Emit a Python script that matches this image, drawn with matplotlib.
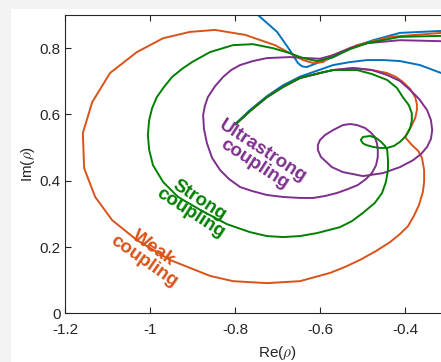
import matplotlib
matplotlib.use("Agg")
import matplotlib.pyplot as plt
from matplotlib.patches import Rectangle

plt.rcParams["font.family"] = ["Liberation Sans", "DejaVu Sans"]
plt.rcParams["mathtext.fontset"] = "cm"
plt.rcParams["axes.unicode_minus"] = False
plt.rcParams["font.size"] = 11

# Trajectories in the complex plane
weak_re = [-0.798, -0.765, -0.725, -0.687, -0.647, -0.600, -0.569, -0.522, -0.478, -0.442,
           -0.421, -0.405, -0.388, -0.376, -0.372, -0.372, -0.376, -0.384, -0.391, -0.400,
           -0.384, -0.369, -0.360, -0.355, -0.355, -0.358, -0.367, -0.379, -0.393, -0.412,
           -0.435, -0.468, -0.506, -0.541, -0.576, -0.647, -0.725, -0.805, -0.859, -0.953,
           -1.031, -1.089, -1.129, -1.155, -1.158, -1.136, -1.094, -1.031, -0.969, -0.906,
           -0.847, -0.776, -0.706, -0.671, -0.640, -0.616, -0.593, -0.569, -0.513, -0.435,
           -0.315, -0.25]
weak_im = [0.571, 0.610, 0.652, 0.683, 0.710, 0.725, 0.734, 0.740, 0.734, 0.725,
           0.713, 0.698, 0.677, 0.652, 0.631, 0.613, 0.589, 0.568, 0.550, 0.532,
           0.508, 0.490, 0.469, 0.432, 0.396, 0.366, 0.327, 0.294, 0.263, 0.239,
           0.215, 0.188, 0.161, 0.140, 0.122, 0.097, 0.091, 0.097, 0.113, 0.161,
           0.221, 0.281, 0.351, 0.438, 0.544, 0.637, 0.725, 0.788, 0.830, 0.849,
           0.855, 0.840, 0.809, 0.785, 0.764, 0.755, 0.758, 0.779, 0.809, 0.834,
           0.846, 0.848]

strong_re = [-0.798, -0.765, -0.725, -0.687, -0.647, -0.600, -0.569, -0.513, -0.478, -0.442,
             -0.419, -0.405, -0.391, -0.384, -0.384, -0.388, -0.398, -0.412, -0.426, -0.442,
             -0.459, -0.475, -0.492, -0.499, -0.504, -0.499, -0.482, -0.468, -0.456, -0.447,
             -0.442, -0.440, -0.440, -0.445, -0.454, -0.471, -0.499, -0.525, -0.553, -0.607,
             -0.647, -0.687, -0.725, -0.765, -0.819, -0.882, -0.934, -0.969, -0.993, -1.002,
             -1.005, -1.002, -0.995, -0.984, -0.967, -0.948, -0.925, -0.901, -0.859, -0.805,
             -0.758, -0.711, -0.671, -0.640, -0.607, -0.569, -0.529, -0.489, -0.412, -0.315,
             -0.25]
strong_im = [0.571, 0.610, 0.652, 0.683, 0.710, 0.725, 0.734, 0.734, 0.722, 0.704,
             0.680, 0.652, 0.628, 0.604, 0.580, 0.559, 0.535, 0.517, 0.505, 0.499,
             0.499, 0.502, 0.508, 0.513, 0.523, 0.532, 0.535, 0.529, 0.517, 0.505,
             0.493, 0.462, 0.432, 0.396, 0.363, 0.333, 0.303, 0.278, 0.260, 0.242,
             0.233, 0.230, 0.233, 0.245, 0.269, 0.312, 0.351, 0.396, 0.447, 0.493,
             0.538, 0.583, 0.619, 0.652, 0.683, 0.713, 0.737, 0.758, 0.788, 0.809,
             0.812, 0.800, 0.785, 0.770, 0.761, 0.773, 0.797, 0.815, 0.834, 0.837,
             0.838]

ultra_re = [-0.798, -0.765, -0.725, -0.687, -0.647, -0.600, -0.569, -0.522, -0.478, -0.442,
            -0.412, -0.388, -0.367, -0.348, -0.339, -0.336, -0.339, -0.348, -0.362, -0.381,
            -0.412, -0.452, -0.499, -0.546, -0.572, -0.598, -0.605, -0.605, -0.600, -0.588,
            -0.569, -0.546, -0.529, -0.513, -0.494, -0.482, -0.471, -0.466, -0.464, -0.464,
            -0.468, -0.478, -0.492, -0.511, -0.534, -0.560, -0.588, -0.616, -0.647, -0.687,
            -0.725, -0.760, -0.788, -0.814, -0.835, -0.854, -0.866, -0.873, -0.875, -0.871,
            -0.864, -0.847, -0.828, -0.809, -0.788, -0.758, -0.725, -0.671, -0.631, -0.600,
            -0.569, -0.529, -0.489, -0.412, -0.315, -0.25]
ultra_im = [0.571, 0.610, 0.652, 0.683, 0.710, 0.725, 0.734, 0.740, 0.734, 0.719,
            0.701, 0.674, 0.647, 0.613, 0.583, 0.553, 0.526, 0.502, 0.481, 0.462,
            0.441, 0.423, 0.414, 0.426, 0.441, 0.472, 0.493, 0.508, 0.523, 0.538,
            0.553, 0.568, 0.571, 0.568, 0.559, 0.547, 0.532, 0.513, 0.493, 0.472,
            0.447, 0.423, 0.405, 0.387, 0.375, 0.363, 0.354, 0.348, 0.348, 0.351,
            0.357, 0.369, 0.381, 0.405, 0.432, 0.469, 0.513, 0.556, 0.598, 0.625,
            0.652, 0.685, 0.713, 0.734, 0.749, 0.761, 0.770, 0.773, 0.770, 0.768,
            0.779, 0.800, 0.815, 0.824, 0.821, 0.821]

free_re = [-0.798, -0.765, -0.725, -0.687, -0.647, -0.600, -0.569, -0.529, -0.489, -0.450,
           -0.412, -0.365, -0.315, -0.25, -0.20, -0.25, -0.315, -0.412, -0.475, -0.529,
           -0.569, -0.607, -0.631, -0.642, -0.652, -0.671, -0.701, -0.746, -0.77]
free_im = [0.573, 0.613, 0.655, 0.688, 0.714, 0.735, 0.749, 0.758, 0.764, 0.764,
           0.761, 0.749, 0.725, 0.69, 0.77, 0.85, 0.852, 0.846, 0.824, 0.800,
           0.773, 0.755, 0.743, 0.745, 0.755, 0.794, 0.849, 0.900, 0.94]

x_ticks = [-1.2, -1.0, -0.8, -0.6, -0.4]
x_ticklabels = ["-1.2", "-1", "-0.8", "-0.6", "-0.4"]
y_ticks = [0, 0.2, 0.4, 0.6, 0.8]
y_ticklabels = ["0", "0.2", "0.4", "0.6", "0.8"]

BLUE = "#0072BD"
ORANGE = "#D95319"
PURPLE = "#7E2F8E"
GREEN = "#008000"

W, H = 441, 362
fig = plt.figure(figsize=(W / 100, H / 100), dpi=100, facecolor="#f3f3f3")
fig.patches.append(Rectangle((11 / W, 0), 1, (H - 9) / H, transform=fig.transFigure,
                             facecolor="white", edgecolor="none", zorder=-10))

# axes runs past the right edge of the picture (cropped original)
ax = fig.add_axes([65 / W, (H - 313.3) / H, 425 / W, 298.3 / H])
ax.set_facecolor("white")

lw = 1.4
ax.plot(free_re, free_im, color=BLUE, lw=lw)
ax.plot(weak_re, weak_im, color=ORANGE, lw=lw)
ax.plot(ultra_re, ultra_im, color=PURPLE, lw=lw)
ax.plot(strong_re, strong_im, color=GREEN, lw=lw)

ax.set_xlim(-1.2, -0.2)
ax.set_ylim(0, 0.9)
ax.set_xticks(x_ticks)
ax.set_xticklabels(x_ticklabels)
ax.set_yticks(y_ticks)
ax.set_yticklabels(y_ticklabels)
ax.tick_params(direction="in", length=4, width=0.8, colors="#262626",
               top=True, right=True, labelsize=11, pad=3)
ax.tick_params(axis="x", pad=7)
for s in ax.spines.values():
    s.set_color("#262626")
    s.set_linewidth(0.8)

ax.set_xlabel(r"Re($\rho$)", fontsize=11, color="#262626", labelpad=5)
ax.set_ylabel(r"Im($\rho$)", fontsize=11, color="#262626", labelpad=2)

lab = dict(fontsize=13.5, fontweight="bold", ha="center", va="center",
           rotation_mode="anchor", multialignment="center", linespacing=0.9)
ax.text(-0.745, 0.470, "Ultrastrong\ncoupling", color=PURPLE, rotation=-33, **lab)
ax.text(-0.895, 0.322, "Strong\ncoupling", color=GREEN, rotation=-33, **lab)
ax.text(-1.003, 0.176, "Weak\ncoupling", color=ORANGE, rotation=-35, **lab)

fig.savefig("out.png", dpi=100, facecolor=fig.get_facecolor())
